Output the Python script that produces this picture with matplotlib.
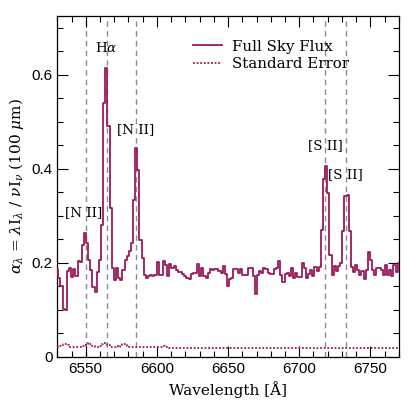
import numpy as np
import matplotlib
matplotlib.use('Agg')
import matplotlib.pyplot as plt
from matplotlib.ticker import MultipleLocator, FuncFormatter

# sky spectrum, bins of 1.5 A starting at 6530 A
wave_start = 6530.0
bin_width = 1.5

flux = [
    0.187, 0.168, 0.150, 0.102, 0.100, 0.183, 0.190, 0.170, 0.187, 0.172,
    0.204, 0.201, 0.238, 0.264, 0.243, 0.206, 0.185, 0.149, 0.138, 0.180,
    0.206, 0.280, 0.540, 0.615, 0.490, 0.317, 0.190, 0.164, 0.190, 0.168,
    0.164, 0.185, 0.205, 0.215, 0.225, 0.243, 0.334, 0.443, 0.398, 0.249,
    0.210, 0.174, 0.168, 0.172, 0.174, 0.172, 0.174, 0.202, 0.174, 0.175,
    0.204, 0.196, 0.172, 0.197, 0.189, 0.193, 0.184, 0.181, 0.181, 0.177,
    0.172, 0.168, 0.165, 0.177, 0.178, 0.178, 0.197, 0.172, 0.189, 0.172,
    0.168, 0.178, 0.186, 0.184, 0.187, 0.187, 0.182, 0.178, 0.193, 0.177,
    0.150, 0.165, 0.168, 0.186, 0.187, 0.178, 0.186, 0.175, 0.175, 0.175,
    0.190, 0.189, 0.172, 0.134, 0.175, 0.182, 0.178, 0.189, 0.186, 0.178,
    0.177, 0.177, 0.187, 0.189, 0.203, 0.174, 0.160, 0.177, 0.179, 0.172,
    0.189, 0.167, 0.179, 0.170, 0.170, 0.199, 0.189, 0.168, 0.177, 0.184,
    0.172, 0.192, 0.183, 0.192, 0.270, 0.378, 0.405, 0.348, 0.217, 0.174,
    0.194, 0.182, 0.194, 0.200, 0.267, 0.343, 0.345, 0.267, 0.192, 0.180,
    0.196, 0.185, 0.174, 0.183, 0.166, 0.185, 0.224, 0.206, 0.185, 0.174,
    0.189, 0.189, 0.185, 0.174, 0.196, 0.174, 0.185, 0.172, 0.196, 0.181,
    0.200,
]

std_err = [
    0.020, 0.021, 0.024, 0.027, 0.027, 0.025, 0.021, 0.020, 0.021, 0.022,
    0.021, 0.022, 0.023, 0.025, 0.028, 0.029, 0.027, 0.024, 0.020, 0.021,
    0.023, 0.028, 0.030, 0.029, 0.025, 0.022, 0.022, 0.021, 0.023, 0.022,
    0.025, 0.027, 0.026, 0.023, 0.020, 0.021, 0.020, 0.020, 0.021, 0.020,
    0.020, 0.021, 0.020, 0.020, 0.020, 0.020, 0.021, 0.020, 0.020, 0.021,
    0.023, 0.021, 0.020, 0.019, 0.019, 0.019, 0.019, 0.019, 0.019, 0.019,
    0.019, 0.019, 0.019, 0.019, 0.019, 0.019, 0.019, 0.019, 0.019, 0.019,
    0.019, 0.019, 0.019, 0.019, 0.019, 0.019, 0.019, 0.019, 0.019, 0.019,
    0.018, 0.018, 0.018, 0.018, 0.018, 0.018, 0.018, 0.018, 0.018, 0.018,
    0.018, 0.018, 0.018, 0.018, 0.018, 0.018, 0.018, 0.018, 0.018, 0.018,
    0.018, 0.018, 0.018, 0.018, 0.018, 0.018, 0.018, 0.018, 0.018, 0.018,
    0.018, 0.018, 0.018, 0.018, 0.018, 0.018, 0.018, 0.018, 0.018, 0.018,
    0.018, 0.018, 0.018, 0.018, 0.018, 0.019, 0.019, 0.018, 0.018, 0.018,
    0.018, 0.018, 0.018, 0.018, 0.018, 0.018, 0.018, 0.018, 0.018, 0.018,
    0.018, 0.018, 0.018, 0.018, 0.018, 0.018, 0.018, 0.018, 0.018, 0.018,
    0.018, 0.018, 0.018, 0.018, 0.018, 0.018, 0.018, 0.018, 0.018, 0.018,
    0.018,
]

# emission lines (vacuum wavelengths)
line_waves = [6549.9, 6564.6, 6585.3, 6718.3, 6732.7]
line_labels = ['[N II]', r'H$\alpha$', '[N II]', '[S II]', '[S II]']
label_y = [0.306, 0.657, 0.483, 0.449, 0.387]
label_dx = [-1.5, 0, 0, 0, 0]

wave = wave_start + bin_width * np.arange(len(flux))

plt.rcParams['mathtext.fontset'] = 'dejavuserif'
serif = 'DejaVu Serif'
col = '#9a1a5b'

fig = plt.figure(figsize=(4.15, 4.15), dpi=100)
ax = fig.add_axes([0.138, 0.140, 0.823, 0.822])

for lw_ in line_waves:
    ax.axvline(lw_, color='#8c8c8c', lw=1.0, ls=(0, (4, 3)), zorder=1)

ax.step(wave, flux, where='mid', color=col, lw=1.3, label='Full Sky Flux', zorder=3)
ax.step(wave, std_err, where='mid', color=col, lw=1.3, ls=(0, (1, 1)),
        label='Standard Error', zorder=3)

for x, lab, y, dx in zip(line_waves, line_labels, label_y, label_dx):
    ax.text(x + dx, y, lab, ha='center', va='center', fontsize=9.7, family=serif)

ax.set_xlim(6530, 6770)
ax.set_ylim(0, 0.725)
ax.xaxis.set_major_locator(MultipleLocator(50))
ax.xaxis.set_minor_locator(MultipleLocator(10))
ax.yaxis.set_major_locator(MultipleLocator(0.2))
ax.yaxis.set_minor_locator(MultipleLocator(0.05))
ax.yaxis.set_major_formatter(FuncFormatter(lambda v, p: '0' if abs(v) < 1e-9 else f'{v:.1f}'))
ax.tick_params(which='both', direction='in', top=True, right=True, labelsize=11)
ax.tick_params(which='major', length=8, width=0.8)
ax.tick_params(which='minor', length=4, width=0.8)
for lab in ax.get_xticklabels() + ax.get_yticklabels():
    lab.set_family('Liberation Sans')
for s in ax.spines.values():
    s.set_linewidth(0.9)

ax.set_xlabel('Wavelength [Å]', family=serif, fontsize=11)
ax.set_ylabel(r'$\alpha_\lambda$ = $\lambda$I$_\lambda$ / $\nu$I$_\nu$ (100 $\mu$m)',
              family=serif, fontsize=11)

leg = ax.legend(loc='upper left', bbox_to_anchor=(0.398, 0.93), frameon=False,
                prop={'family': serif, 'size': 10.8}, handlelength=1.9,
                handletextpad=0.7, borderpad=0, borderaxespad=0, labelspacing=0.25)

fig.savefig('out.png', dpi=100)
